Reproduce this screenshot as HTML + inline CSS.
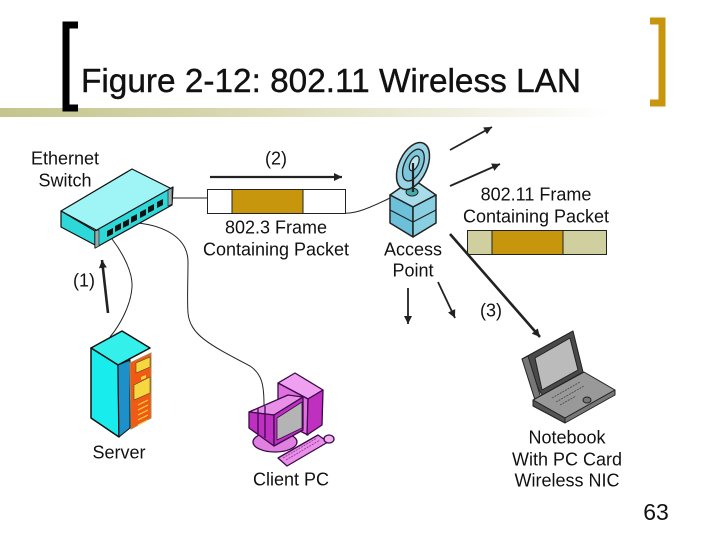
<!DOCTYPE html>
<html><head><meta charset="utf-8"><style>
html,body{margin:0;padding:0;background:#fff;width:720px;height:540px;overflow:hidden}
svg{display:block}
text{font-family:"Liberation Sans",Arial,sans-serif;fill:#111;font-size:18px;text-anchor:middle}
</style></head><body>
<svg width="720" height="540" viewBox="0 0 720 540" xmlns="http://www.w3.org/2000/svg">
<defs>
<linearGradient id="g" x1="0" x2="1" y1="0" y2="0"><stop offset="0" stop-color="#c4c48c"/><stop offset="0.35" stop-color="#d6d6ae"/><stop offset="1" stop-color="#ffffff"/></linearGradient>
<marker id="a" markerUnits="userSpaceOnUse" markerWidth="9" markerHeight="8" refX="8" refY="4" orient="auto"><path d="M0 0L8 4L0 8z" fill="#222"/></marker>
</defs>
<rect x="0" y="108" width="610" height="9" fill="url(#g)"/>
<path d="M78 25H66V108H78" fill="none" stroke="#000" stroke-width="7"/>
<path d="M650 21H662V103H650" fill="none" stroke="#c8960c" stroke-width="7"/>
<text x="331" y="92" style="font-size:33px;stroke:#111;stroke-width:.4" textLength="500" lengthAdjust="spacingAndGlyphs">Figure 2-12: 802.11 Wireless LAN</text>

<!-- connectors -->
<g fill="none" stroke="#222" stroke-width="1">
<path d="M172 198H207"/>
<path d="M345 213C355 214 370 208 392 197"/>
<path d="M112 239C122 252 133 272 132 287C131 305 120 325 110 337"/>
<path d="M138 223C165 226 188 238 188 262C188 280 187 300 188 313C190 335 210 345 250 366C262 374 264 385 264 405"/>
</g>

<!-- switch -->
<g stroke="#111" stroke-width="1.2" stroke-linejoin="round">
<path d="M61 211L132 169L172 189L98 231Z" fill="#9ff5f5"/>
<path d="M61 211L95 231V245L61 227Z" fill="#2fd8d8"/>
<path d="M95 231L173 187L172 205L95 248Z" fill="#2fd8d8"/>
</g>
<g fill="#111">
<path d="M107 231l6-3v6l-6 3z"/><path d="M115 226l6-3v6l-6 3z"/><path d="M123 222l6-3v6l-6 3z"/><path d="M131 217l6-3v6l-6 3z"/><path d="M140 212l6-3v6l-6 3z"/><path d="M148 207l6-3v6l-6 3z"/><path d="M157 202l6-3v6l-6 3z"/>
</g>
<path d="M95 231V248l4-2V230z" fill="#9aa" stroke="#111" stroke-width=".6"/>
<path d="M168 190v16l4-2V188z" fill="#9aa" stroke="#111" stroke-width=".6"/>

<!-- frame 1 -->
<rect x="207.500" y="189.500" width="138" height="24" fill="#fff" stroke="#222"/>
<rect x="232" y="189.500" width="71" height="24" fill="#c8960c" stroke="#222"/>
<!-- frame 2 -->
<rect x="467.500" y="230.500" width="139" height="24" fill="#cfcf9f" stroke="#222"/>
<rect x="492" y="230.500" width="71" height="24" fill="#c8960c" stroke="#222"/>

<!-- arrows -->
<g fill="none" stroke="#222">
<path d="M210 177H342" stroke-width="2.200" marker-end="url(#a)"/>
<path d="M108 313L102 260" stroke-width="2.600" marker-end="url(#a)"/>
<path d="M450 150L492 127" stroke-width="1.800" marker-end="url(#a)"/>
<path d="M450 186L500 164" stroke-width="1.800" marker-end="url(#a)"/>
<path d="M408 288V324" stroke-width="1.800" marker-end="url(#a)"/>
<path d="M438 282L455 318" stroke-width="1.800" marker-end="url(#a)"/>
<path d="M450 234L540 337" stroke-width="2.600" marker-end="url(#a)"/>
</g>

<!-- AP -->
<g stroke="#222" stroke-linejoin="round">
<path d="M390 195L413 179L436 195L413 207Z" fill="#a8dcea" stroke-width="1.500"/>
<path d="M390 195L413 207V237L390 223Z" fill="#6cc0da" stroke-width="1.500"/>
<path d="M436 195L413 207V237L436 223Z" fill="#88cfe2" stroke-width="1.500"/>
<path d="M390 210L413 222L436 210" fill="none" stroke-width="1.200"/>
<ellipse cx="412" cy="192" rx="6" ry="4" fill="#4aa" stroke-width="1"/>
<g fill="none" transform="rotate(25 413 166)">
<ellipse cx="413" cy="166" rx="14" ry="25" fill="#9ad4e4" stroke-width="1.500"/>
<ellipse cx="413" cy="165" rx="9" ry="17" fill="#7cc7dc" stroke-width="1.300"/>
<ellipse cx="413" cy="163" rx="4" ry="8" fill="#bfe6ef" stroke-width="1.300"/>
</g>
<path d="M413 163V192" stroke-width="2.200" fill="none"/>
</g>

<!-- server -->
<g stroke="#111" stroke-width="1.500" stroke-linejoin="round">
<path d="M91 348L122 331L150 348L118 365Z" fill="#33f0ea"/>
<path d="M91 348L118 365L119 437L91 418Z" fill="#19ecec"/>
<path d="M118 365L130 360V428L119 437Z" fill="#1d8fc9" stroke-width="1"/>
</g>
<path d="M130 363L151 353V418L131 429Z" fill="#f05a14" stroke="#a85" stroke-width="1"/>
<path d="M136 363L150 357V367L136 373Z" fill="#f5d840" stroke="#642" stroke-width=".6"/>
<path d="M134 385L150 377V393L134 400Z" fill="#f5d840" stroke="#642" stroke-width=".6"/>
<path d="M141 377l5-2v3l-5 2z" fill="#f5d840"/>
<g stroke="#f5d840" stroke-width="1"><path d="M138 405l10-5"/><path d="M138 410l10-5"/><path d="M138 415l10-5"/><path d="M138 420l10-5"/><path d="M138 425l10-5"/></g>

<!-- PC -->
<g stroke="#3a0a4a" stroke-width="1.300" stroke-linejoin="round">
<path d="M278 383L295 373L323 390L308 399Z" fill="#f0a0f0"/>
<path d="M278 383L308 399V435L278 420Z" fill="#e070e0"/>
<path d="M308 399L323 390L322 425L307 435Z" fill="#c030c0"/>
<ellipse cx="275" cy="442" rx="22" ry="10" fill="#e080e0"/>
<path d="M249 412L288 395L303 397L274 415Z" fill="#e890e8"/>
<path d="M249 412L274 415V446L249 428Z" fill="#c030c0"/>
<path d="M258 408V434M265 406V438" fill="none"/>
<path d="M274 415L303 397V430L274 446Z" fill="#c030c0"/>
<path d="M277 418L302 402V428L277 440Z" fill="#b4b4b4" stroke-width=".8"/>
<path d="M278 458L318 435L328 442L287 466Z" fill="#e890e8"/>
<ellipse cx="329" cy="439" rx="5" ry="4" fill="#f0b0f0"/>
</g>
<path d="M283 458L317 438M286 460L320 440" stroke="#a040a0" stroke-width="1" stroke-dasharray="2 1"/>

<!-- laptop -->
<g stroke="#222" stroke-width="1" stroke-linejoin="round">
<path d="M522 359L573 331L583 372L542 395Z" fill="#4a4a4a"/>
<path d="M522 359L528 356L541 398L535 400Z" fill="#777"/>
<path d="M535 358L570 338L578 370L542 390Z" fill="#bbb"/>
<path d="M533 400L584 372L615 390L565 418Z" fill="#999"/>
<path d="M533 400L565 418V423L533 406Z" fill="#555"/>
<path d="M565 418L615 390V395L565 423Z" fill="#777"/>
<ellipse cx="587" cy="400" rx="4" ry="3" fill="#777"/>
</g>
<path d="M552 398L580 382M556 402L584 386M560 405L576 396" stroke="#555" stroke-width="1" stroke-dasharray="2 1"/>

<!-- labels -->
<text x="65" y="164.500">Ethernet</text>
<text x="65" y="186.500">Switch</text>
<text x="276" y="164.500">(2)</text>
<text x="276" y="233.500">802.3 Frame</text>
<text x="276" y="255.500">Containing Packet</text>
<text x="84" y="286.500">(1)</text>
<text x="536" y="200.500">802.11 Frame</text>
<text x="536" y="222.500">Containing Packet</text>
<text x="413" y="255.500">Access</text>
<text x="413" y="276.500">Point</text>
<text x="491" y="316.500">(3)</text>
<text x="119" y="458.500">Server</text>
<text x="291" y="485.500">Client PC</text>
<text x="567" y="443.500">Notebook</text>
<text x="567" y="465.500">With PC Card</text>
<text x="567" y="486.500">Wireless NIC</text>
<text x="656" y="520" style="font-size:23px">63</text>
</svg>
</body></html>
